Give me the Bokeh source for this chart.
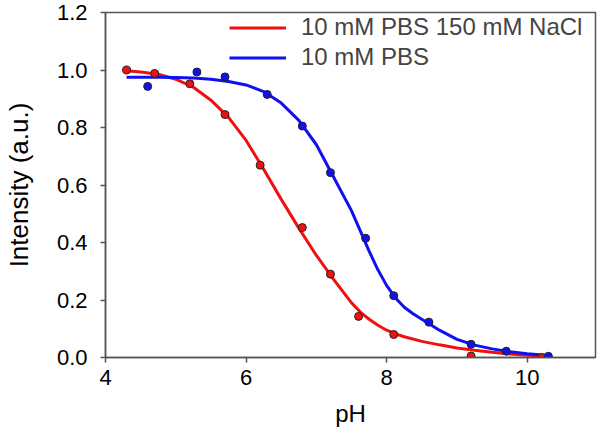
from bokeh.plotting import figure
from bokeh.models import Range1d, Legend, LegendItem, FixedTicker
from bokeh.embed import file_html
from bokeh.resources import INLINE

# Measured data points
red_ph = [4.3, 4.7, 5.2, 5.7, 6.2, 6.8, 7.2, 7.6, 8.1, 9.2, 10.2]
red_int = [1.0, 0.988, 0.952, 0.845, 0.669, 0.452, 0.29, 0.143, 0.08, 0.005, 0.0]
blue_ph = [4.6, 5.3, 5.7, 6.3, 6.8, 7.2, 7.7, 8.1, 8.6, 9.2, 9.7, 10.3]
blue_int = [0.943, 0.993, 0.976, 0.915, 0.805, 0.643, 0.415, 0.215, 0.123, 0.046, 0.022, 0.004]

# Fitted curves
red_fit_ph = [4.3, 4.5, 4.75, 5.0, 5.25, 5.5, 5.75, 6.0, 6.25, 6.5, 6.75, 7.0, 7.25,
              7.5, 7.625, 7.75, 7.875, 8.0, 8.125, 8.25, 8.5, 8.75, 9.0, 9.25, 9.5,
              9.75, 10.0, 10.2]
red_fit_int = [0.997, 0.993, 0.985, 0.968, 0.94, 0.895, 0.835, 0.755, 0.655, 0.55, 0.45,
               0.355, 0.27, 0.19, 0.158, 0.133, 0.112, 0.095, 0.082, 0.072, 0.056,
               0.044, 0.033, 0.025, 0.018, 0.012, 0.008, 0.006]
blue_fit_ph = [4.3, 4.5, 4.75, 5.0, 5.25, 5.5, 5.75, 6.0, 6.25, 6.5, 6.75, 7.0, 7.25,
               7.5, 7.75, 7.875, 8.0, 8.125, 8.25, 8.375, 8.5, 8.75, 9.0, 9.25, 9.5,
               9.75, 10.0, 10.3]
blue_fit_int = [0.975, 0.975, 0.975, 0.974, 0.972, 0.968, 0.96, 0.948, 0.925, 0.885,
                0.825, 0.74, 0.625, 0.51, 0.37, 0.305, 0.25, 0.207, 0.175, 0.152,
                0.133, 0.095, 0.063, 0.043, 0.030, 0.020, 0.013, 0.007]

series_labels = ["10 mM PBS 150 mM NaCl", "10 mM PBS"]
x_ticks = [4, 6, 8, 10]
y_ticks = [0.0, 0.2, 0.4, 0.6, 0.8, 1.0, 1.2]

RED = "#f01010"
BLUE = "#1010f0"
FONT = "Liberation Sans"
AX = "#555555"

p = figure(width=600, height=439, output_backend="svg", toolbar_location=None,
           x_range=Range1d(4, 10.97), y_range=Range1d(0, 1.2),
           min_border_left=102, min_border_right=5, min_border_top=12, min_border_bottom=82)

p.xgrid.visible = False
p.ygrid.visible = False
p.outline_line_color = AX
p.outline_line_width = 1.5

for ax in (p.xaxis[0], p.yaxis[0]):
    ax.axis_line_color = AX
    ax.axis_line_width = 1.5
    ax.major_tick_line_color = AX
    ax.major_tick_line_width = 1.5
    ax.major_tick_out = 5
    ax.major_tick_in = 0
    ax.minor_tick_line_color = None
    ax.major_label_text_font = FONT
    ax.major_label_text_font_size = "22px"
    ax.major_label_text_color = "black"
    ax.axis_label_text_font = FONT
    ax.axis_label_text_font_style = "normal"
    ax.axis_label_text_color = "black"

p.xaxis.ticker = FixedTicker(ticks=x_ticks)
p.yaxis.ticker = FixedTicker(ticks=y_ticks)
p.xaxis.major_label_overrides = {t: str(t) for t in x_ticks}
p.yaxis.major_label_overrides = {t: f"{t:.1f}" for t in y_ticks}
p.xaxis.axis_label = "pH"
p.yaxis.axis_label = "Intensity (a.u.)"
p.xaxis.axis_label_text_font_size = "24px"
p.yaxis.axis_label_text_font_size = "26px"
p.xaxis.major_label_standoff = 7
p.yaxis.major_label_standoff = 13
p.xaxis.axis_label_standoff = 12
p.yaxis.axis_label_standoff = 20

r_line = p.line(red_fit_ph, red_fit_int, line_color=RED, line_width=3)
b_line = p.line(blue_fit_ph, blue_fit_int, line_color=BLUE, line_width=3)
p.scatter(red_ph, red_int, size=8, fill_color=RED, line_color="#222222", line_width=1)
p.scatter(blue_ph, blue_int, size=8, fill_color=BLUE, line_color="#222222", line_width=1)

legend = Legend(items=[LegendItem(label=series_labels[0], renderers=[r_line]),
                       LegendItem(label=series_labels[1], renderers=[b_line])],
                location=(124, 286), padding=0, margin=0, spacing=2,
                glyph_width=57, glyph_height=27, label_height=27, label_standoff=15,
                label_text_font=FONT, label_text_font_size="24px",
                background_fill_alpha=0, border_line_color=None)
p.add_layout(legend)

open("out.html", "w").write(file_html(p, INLINE))
